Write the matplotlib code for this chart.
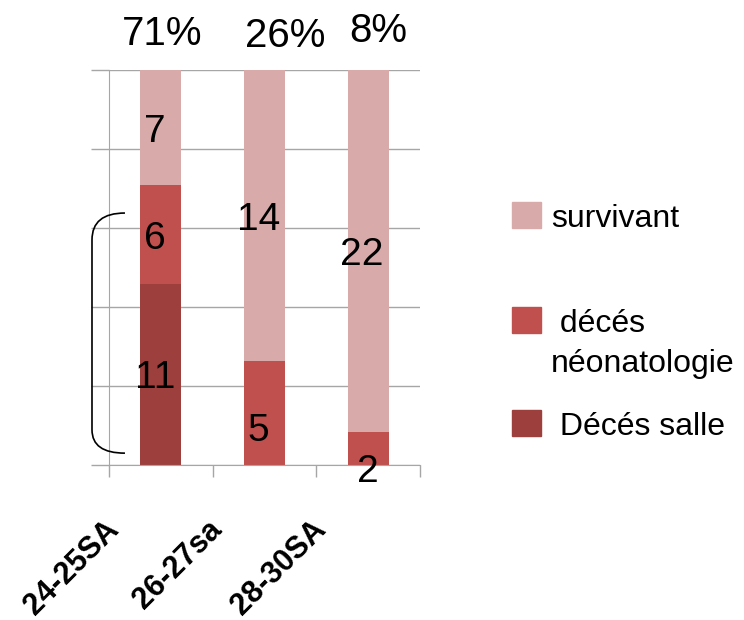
import matplotlib
matplotlib.use("Agg")
import matplotlib.pyplot as plt
import numpy as np
from matplotlib.path import Path
from matplotlib.patches import PathPatch, Rectangle

plt.rcParams['font.family'] = ['Liberation Sans', 'DejaVu Sans']

categories = ['24-25SA', '26-27sa', '28-30SA']
deces_salle = np.array([11, 0, 0])
deces_neo = np.array([6, 5, 2])
survivant = np.array([7, 14, 22])
series_names = ['survivant', ' décés\nnéonatologie', ' Décés salle']
colors = ['#D9AAAA', '#C0504D', '#9D403D']

total = deces_salle + deces_neo + survivant
mortality = np.round((deces_salle + deces_neo) / total * 100).astype(int)

fig = plt.figure(figsize=(7.44, 6.2), dpi=100)
ax = fig.add_axes([0.1465, 0.25, 0.418, 0.637])

x = np.arange(len(categories))
w = 0.395
# 100% stacked bars
f_salle = deces_salle / total
f_neo = deces_neo / total
f_surv = survivant / total
ax.bar(x, f_salle, w, color=colors[2], zorder=2)
ax.bar(x, f_neo, w, bottom=f_salle, color=colors[1], zorder=2)
ax.bar(x, f_surv, w, bottom=f_salle + f_neo, color=colors[0], zorder=2)

ax.set_xlim(-0.5, 2.5)
ax.set_ylim(0, 1)
ax.set_yticks(np.arange(0, 1.01, 0.2))
ax.set_yticklabels([])
ax.grid(axis='y', color='#A6A6A6', lw=1, zorder=0)
ax.tick_params(axis='y', length=13, color='#A6A6A6', width=1)
ax.set_xticks(x)
ax.set_xticklabels([])
ax.tick_params(axis='x', which='major', length=0)
ax.set_xticks(np.arange(-0.5, 2.6, 1), minor=True)
ax.tick_params(axis='x', which='minor', length=8.6, color='#A6A6A6', width=1)
for s in ['top', 'right']:
    ax.spines[s].set_visible(False)
for s in ['left', 'bottom']:
    ax.spines[s].set_color('#A6A6A6')

# segment value labels (small nudges like the original)
label_off = {(1, 'neo'): (-6, -18), (2, 'neo'): (0, -23)}
for i in x:
    segs = [('salle', deces_salle[i], 0, f_salle[i]),
            ('neo', deces_neo[i], f_salle[i], f_neo[i]),
            ('surv', survivant[i], f_salle[i] + f_neo[i], f_surv[i])]
    for name, v, b, h in segs:
        if v == 0:
            continue
        ax.annotate(str(v), xy=(i, b + h / 2), xytext=label_off.get((i, name), (-6, -4)),
                    textcoords='offset pixels', ha='center', va='center',
                    fontsize=28, zorder=3)

# mortality percentages above bars
pct_off = [(1, 36), (21, 34), (10, 39)]
for i in x:
    ax.annotate(f'{mortality[i]}%', xy=(i, 1), xytext=pct_off[i],
                textcoords='offset pixels', ha='center', va='center',
                fontsize=29, annotation_clip=False)

# category labels
for i, c in enumerate(categories):
    ax.annotate(c, xy=(i - 0.45, 0), xycoords=('data', 'axes fraction'),
                xytext=(0, -60), textcoords='offset pixels', rotation=45,
                rotation_mode='anchor', ha='right', va='center',
                fontsize=22, fontweight='bold', annotation_clip=False)

# bracket
verts = [(-0.346, 0.638), (-0.664, 0.638), (-0.664, 0.570), (-0.664, 0.089),
         (-0.664, 0.030), (-0.346, 0.030)]
codes = [Path.MOVETO, Path.CURVE3, Path.CURVE3, Path.LINETO, Path.CURVE3, Path.CURVE3]
ax.add_patch(PathPatch(Path(verts, codes), fill=False, lw=1.2, color='black',
                       clip_on=False, zorder=4))

# legend
W, H = 744, 620
leg = [(202, [(551, 227, 'survivant')]),
       (307, [(551, 332, series_names[1].split('\n')[0]),
              (551, 372, series_names[1].split('\n')[1])]),
       (410, [(551, 435, series_names[2])])]
for (top, texts), col in zip(leg, colors):
    fig.patches.append(Rectangle((512 / W, 1 - (top + 26) / H), 29 / W, 26 / H,
                                 transform=fig.transFigure, color=col))
    for tx, ty, t in texts:
        fig.text(tx / W, 1 - ty / H, t, fontsize=23, va='baseline', ha='left')

fig.savefig('out.png', dpi=100)
